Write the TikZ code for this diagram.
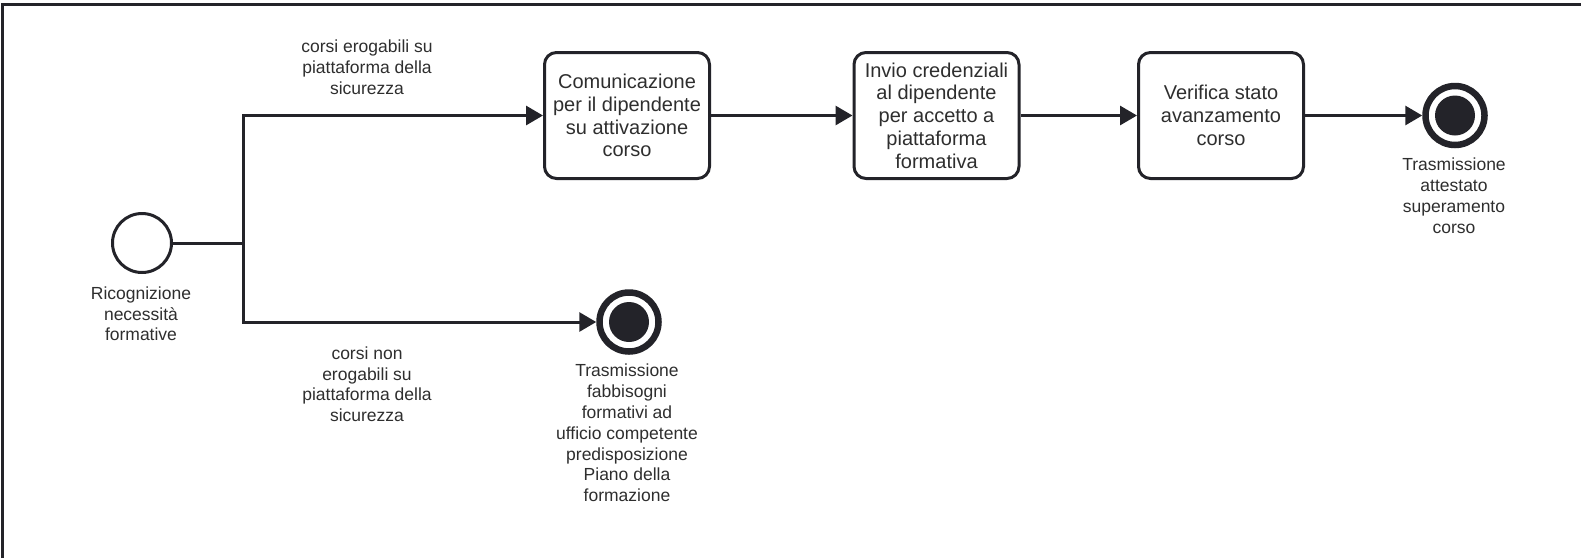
\documentclass[tikz,border=0pt]{standalone}
\usepackage{fontspec}
\setmainfont{Liberation Sans}
\usepackage{xcolor}
\usepackage{tikz}
\usetikzlibrary{arrows.meta}

\definecolor{ink}{HTML}{232329}
\definecolor{txt}{HTML}{2E2E2E}

\tikzset{
    task/.style={draw=ink, line width=3pt, rounded corners=12pt, minimum width=165pt, minimum height=126pt,
        align=center, inner sep=2pt, text=txt, font=\fontsize{20}{22.7}\selectfont},
    startev/.style={circle, draw=ink, line width=3pt, minimum size=59pt, inner sep=0pt},
    endev/.style={circle, draw=ink, line width=6.5pt, minimum size=59pt, inner sep=0pt},
    lbl/.style={align=center, text=txt, inner sep=0pt, font=\fontsize{17.5}{20.8}\selectfont},
    seqline/.style={draw=ink, line width=3pt},
    flow/.style={seqline, -{Triangle[length=17pt,width=19pt]}},
}

\begin{document}
\begin{tikzpicture}[x=1pt,y=-1pt]
        \useasboundingbox (0,0) rectangle (1581,558);
        \draw[ink, line width=3.5pt] (2.5,558) -- (2.5,4.5) -- (1581,4.5);

        \node[startev] (start) at (142,243) {};
        \coordinate (split) at (243,243);
        \node[task] (t1) at (627,115.5) {Comunicazione\\per il dipendente\\su attivazione\\corso};
        \node[task] (t2) at (936.5,115.5) {Invio credenziali\\al dipendente\\per accetto a\\piattaforma\\formativa};
        \node[task] (t3) at (1221,115.5) {Verifica stato\\avanzamento\\corso};
        \node[endev] (endA) at (1455,115.5) {};
        \node[endev] (endB) at (629,322) {};
        \fill[ink] (endA) circle (20pt);
        \fill[ink] (endB) circle (20pt);

        \draw[seqline] (start) -- (split);
        \draw[flow] (split) |- (t1);
        \draw[flow] (split) |- (endB);
        \draw[flow] (t1) -- (t2);
        \draw[flow] (t2) -- (t3);
        \draw[flow] (t3) -- (endA);

        \node[lbl, anchor=north] (startlbl) at (141,286.5) {Ricognizione\\necessità\\formative};
        \node[lbl, anchor=north] (uplbl) at (367,40) {corsi erogabili su\\piattaforma della\\sicurezza};
        \node[lbl, anchor=north] (lowlbl) at (367,346.5) {corsi non\\erogabili su\\piattaforma della\\sicurezza};
        \node[lbl, anchor=north] (endAlbl) at (1454,158) {Trasmissione\\attestato\\superamento\\corso};
        \node[lbl, anchor=north] (endBlbl) at (627,364) {Trasmissione\\fabbisogni\\formativi ad\\ufficio competente\\predisposizione\\Piano della\\formazione};
    \end{tikzpicture}
\end{document}
